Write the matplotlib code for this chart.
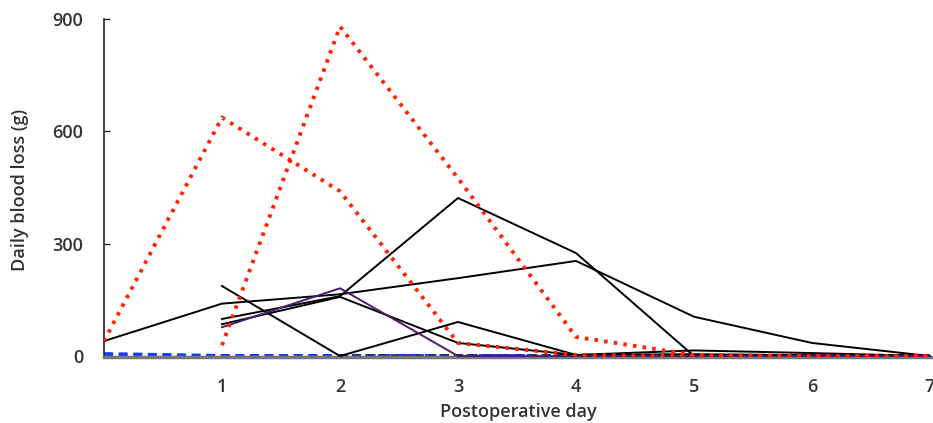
import numpy as np
import matplotlib
matplotlib.use("Agg")
import matplotlib.pyplot as plt

nan = np.nan
days = [0, 1, 2, 3, 4, 5, 6, 7]
x_ticks = [1, 2, 3, 4, 5, 6, 7]
y_ticks = [0, 300, 600, 900]

red_a = [40, 637, 440, 35, 3, 0, 0, 0]
red_b = [nan, 29, 880, 475, 51, 3, 0, 0]
black_a = [40, 140, 165, 208, 254, 105, 35, 0]
black_b = [nan, 187, 0, 91, 3, 15, 8, 0]
black_c = [nan, 99, 160, 422, 275, 0, 0, 0]
black_d = [nan, 85, 158, 35, 3, 5, 2, 0]
purple_a = [nan, 77, 181, 0, 0, 0, 0, 0]
blue_a = [5, 0, 0, 0, 0, 0, 0, 0]
navy_a = [nan, nan, 0, 0, 0, 0, 0, 0]
darkred_a = [nan, nan, nan, nan, 0, 0, 0, 0]

plt.rcParams['font.family'] = ['Open Sans', 'DejaVu Sans']

fig = plt.figure(figsize=(9.33, 4.23), dpi=100)
ax = fig.add_axes([104/933, (423-357)/423, (933-104)/933, (357-19)/423])

txt = '#333333'
ax.plot(days, blue_a, color='#0a3cff', lw=3.0, ls=(0, (2.2, 1.3)), zorder=2)
ax.plot(days, navy_a, color='#1a237e', lw=2.6, ls=(0, (2.2, 1.3)), zorder=2)
ax.plot(days, darkred_a, color='#8b1a3a', lw=2.4, ls=(1.5, (2.2, 1.3)), zorder=2)
for s in (black_a, black_b, black_c, black_d):
    ax.plot(days, s, color='black', lw=1.4, zorder=3)
ax.plot(days, purple_a, color='#4a1d6e', lw=1.4, zorder=3)
for s in (red_a, red_b):
    ax.plot(days, s, color='#ff2200', lw=2.8, ls=(0, (0.9, 1.6)), zorder=4)

ax.set_xlim(0, 7 * 829 / 826)
ax.set_ylim(-2.5, 900)
ax.set_xticks(x_ticks)
ax.set_yticks(y_ticks)
ax.set_xticklabels([str(v) for v in x_ticks])
ax.set_yticklabels([str(v) for v in y_ticks])

for sp in ('top', 'right'):
    ax.spines[sp].set_visible(False)
ax.spines['left'].set_color('#222222')
ax.spines['left'].set_linewidth(1.2)
ax.spines['bottom'].set_color('#777777')
ax.spines['bottom'].set_linewidth(2.5)

ax.tick_params(axis='y', direction='in', length=4, width=1, color='#222222',
               pad=15, labelsize=13, labelcolor=txt)
ax.tick_params(axis='x', length=0, pad=15, labelsize=13, labelcolor=txt)
for lab in ax.get_xticklabels() + ax.get_yticklabels():
    lab.set_fontweight('semibold')

fig.text(518/933, 1 - 412/423, 'Postoperative day', ha='center', va='center',
         fontsize=13, color=txt, fontweight='semibold')
fig.text(20/933, 1 - 190/423, 'Daily blood loss (g)', ha='center', va='center',
         rotation=90, fontsize=13, color=txt, fontweight='semibold')

fig.savefig('out.png', dpi=100)
